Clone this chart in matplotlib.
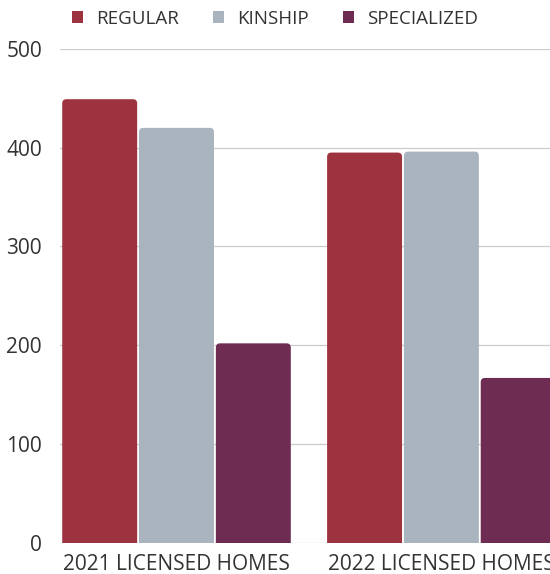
import matplotlib.pyplot as plt
import numpy as np
from matplotlib.patches import FancyBboxPatch, Patch

groups = ["2021 LICENSED HOMES", "2022 LICENSED HOMES"]
series = ["REGULAR", "KINSHIP", "SPECIALIZED"]
regular = [449, 395]
kinship = [420, 396]
specialized = [202, 167]
colors = ["#9e3340", "#a9b4be", "#6e2c53"]

plt.rcParams["font.family"] = ["Open Sans", "DejaVu Sans"]

fig = plt.figure(figsize=(5.5, 5.74), dpi=100)
ax = fig.add_axes([0.109, 0.054, 0.891, 0.861])

x = np.arange(len(groups))
width = 0.283
step = 0.29
for i, vals in enumerate([regular, kinship, specialized]):
    bars = ax.bar(x + (i - 1) * step, vals, width, color=colors[i], zorder=3)
    # swap the plain rectangles for ones with softly rounded tops
    for b in bars:
        b.set_visible(False)
        fb = FancyBboxPatch((b.get_x(), -10), b.get_width(), b.get_height() + 10,
                            boxstyle="round,pad=0,rounding_size=0.016",
                            mutation_aspect=268, facecolor=colors[i],
                            edgecolor="none", zorder=3)
        ax.add_patch(fb)

ax.set_xlim(-0.44, 1.41)
ax.set_ylim(0, 500)
ax.set_yticks([0, 100, 200, 300, 400, 500])
ax.yaxis.grid(True, color="#cccccc", linewidth=0.9, zorder=0)
ax.set_xticks(x)
ax.set_xticklabels(groups)
ax.tick_params(length=0, labelsize=15, colors="#333333", pad=8)
ax.tick_params(axis="y", labelsize=15, pad=13)
for s in ax.spines.values():
    s.set_visible(False)

handles = [Patch(facecolor=c, edgecolor="none", label=n) for c, n in zip(colors, series)]
fig.legend(handles=handles, loc="upper center", bbox_to_anchor=(0.5, 1.012), ncol=3,
           frameon=False, fontsize=13.5, handlelength=0.6, handleheight=0.6,
           columnspacing=1.8, handletextpad=0.7, labelcolor="#333333")

fig.savefig("out.png", dpi=100)
